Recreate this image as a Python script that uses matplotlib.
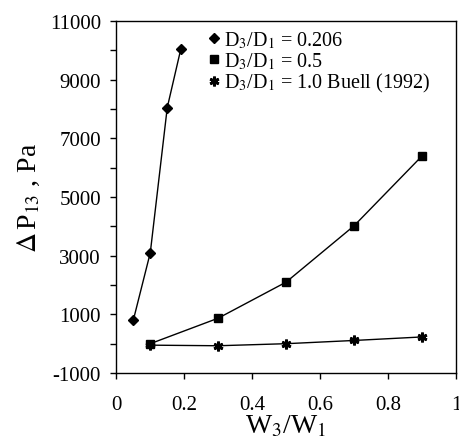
import matplotlib
matplotlib.use("Agg")
from matplotlib import pyplot as plt
import numpy as np

plt.rcParams['font.family'] = ['Liberation Serif', 'DejaVu Serif']
plt.rcParams['mathtext.fontset'] = 'stix'
plt.rcParams['axes.unicode_minus'] = False

# pressure drop vs flow ratio for three diameter ratios
w_small = [0.05, 0.1, 0.15, 0.19]
dp_small = [800, 3100, 8050, 10050]

w_mid = [0.1, 0.3, 0.5, 0.7, 0.9]
dp_mid = [0, 870, 2100, 4020, 6400]

w_buell = [0.1, 0.3, 0.5, 0.7, 0.9]
dp_buell = [-50, -70, 0, 110, 230]

labels = [r'D$_3$/D$_1$ = 0.206', r'D$_3$/D$_1$ = 0.5',
          r'D$_3$/D$_1$ = 1.0 Buell (1992)']

xticks = [0, 0.2, 0.4, 0.6, 0.8, 1]
xticklabels = ['0', '0.2', '0.4', '0.6', '0.8', '1']
yticks = [-1000, 1000, 3000, 5000, 7000, 9000, 11000]
yminor = [0, 2000, 4000, 6000, 8000, 10000]

fig = plt.figure(figsize=(4.59, 4.39), dpi=100)
ax = fig.add_axes([0.2534, 0.148, 0.7401, 0.8019])

ax.plot(w_small, dp_small, color='black', lw=1, marker='D', ms=5, label=labels[0])
ax.plot(w_mid, dp_mid, color='black', lw=1, marker='s', ms=6, label=labels[1])
ax.plot(w_buell, dp_buell, color='black', lw=1, marker=(6, 2, 0), ms=7, mew=2,
        label=labels[2])

ax.set_xlim(0, 1)
ax.set_ylim(-1000, 11000)
ax.set_xticks(xticks)
ax.set_xticklabels(xticklabels)
ax.set_yticks(yticks)
ax.set_yticks(yminor, minor=True)

ax.tick_params(axis='both', which='both', direction='out', length=4, width=1,
               labelsize=15)
ax.tick_params(axis='x', pad=12)
ax.tick_params(axis='y', pad=7)

for s in ax.spines.values():
    s.set_linewidth(1)

ax.set_xlabel(r'W$_3$/W$_1$', fontsize=20, labelpad=-1)
ax.set_ylabel(r'$\Delta\,$P$_{13}$ , Pa', fontsize=20, labelpad=6)

ax.legend(loc='upper left', bbox_to_anchor=(0.27, 0.975), frameon=False,
          fontsize=14.5, handlelength=0.6, handletextpad=0.2, labelspacing=0.0,
          borderpad=0, borderaxespad=0, markerfirst=True)
leg = ax.get_legend()
for h in leg.legend_handles:
    h.set_linestyle('none')

fig.savefig('out.png', dpi=100)
